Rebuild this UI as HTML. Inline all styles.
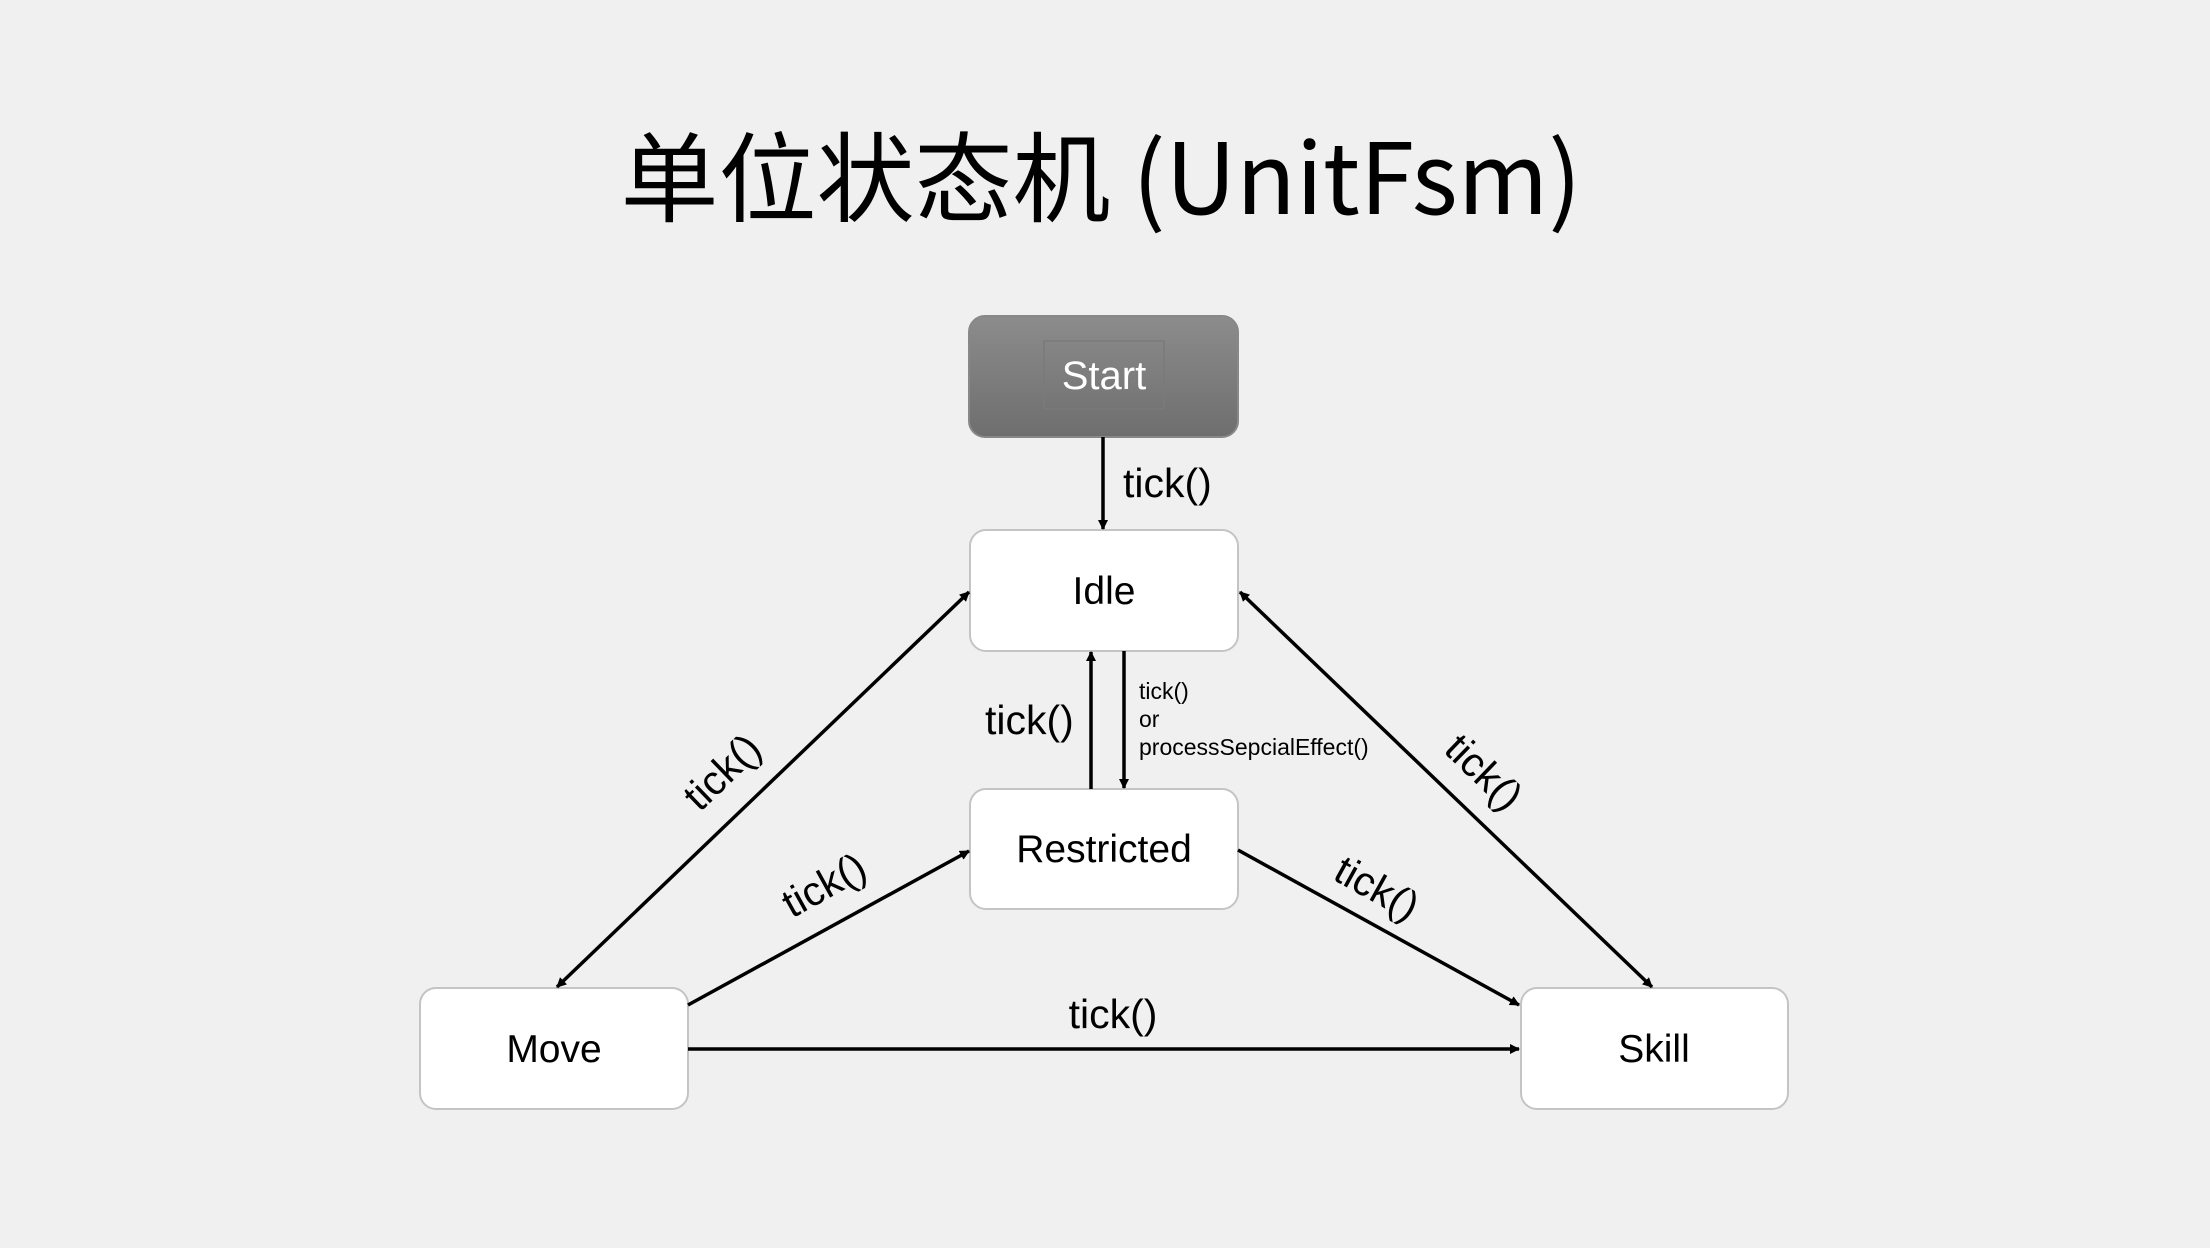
<!DOCTYPE html>
<html><head><meta charset="utf-8"><style>
html,body{margin:0;padding:0;background:#f0f0f0;}
body{width:2210px;height:1248px;position:relative;overflow:hidden;font-family:"Liberation Sans",sans-serif;}
</style></head><body>
<svg width="2210" height="1248" viewBox="0 0 2210 1248" xmlns="http://www.w3.org/2000/svg" style="position:absolute;left:0;top:0">
<defs>
<linearGradient id="g" x1="0" y1="0" x2="0" y2="1"><stop offset="0" stop-color="#8c8c8c"/><stop offset="1" stop-color="#6e6e6e"/></linearGradient>
<marker id="a" markerWidth="10" markerHeight="10" refX="9" refY="5" orient="auto-start-reverse" markerUnits="userSpaceOnUse"><path d="M0,0 L10,5 L0,10 z" fill="#000"/></marker>
</defs>
<text x="1101" y="214" font-family="'Noto Sans CJK SC',sans-serif" font-size="98" text-anchor="middle" fill="#000">单位状态机 (UnitFsm)</text>
<rect x="969" y="316" width="269" height="121" rx="16" fill="url(#g)" stroke="#888" stroke-width="2"/>
<rect x="1044" y="341" width="120" height="68" fill="none" stroke="#7a7a7a" stroke-width="1.5"/>
<text x="1104" y="389" font-size="40" fill="#fff" text-anchor="middle">Start</text>
<g fill="#fff" stroke="#c4c4c4" stroke-width="2">
<rect x="970" y="530" width="268" height="121" rx="16"/>
<rect x="970" y="789" width="268" height="120" rx="16"/>
<rect x="420" y="988" width="268" height="121" rx="16"/>
<rect x="1521" y="988" width="267" height="121" rx="16"/>
</g>
<g font-size="39" text-anchor="middle" fill="#000">
<text x="1104" y="604">Idle</text>
<text x="1104" y="862">Restricted</text>
<text x="554" y="1062">Move</text>
<text x="1654" y="1062">Skill</text>
</g>
<g stroke="#000" stroke-width="3.5" fill="none" marker-end="url(#a)">
<line x1="1103" y1="437" x2="1103" y2="529"/>
<line x1="1091" y1="789" x2="1091" y2="652"/>
<line x1="1124" y1="651" x2="1124" y2="788"/>
<line x1="557" y1="987" x2="969" y2="592" marker-start="url(#a)"/>
<line x1="688" y1="1005" x2="969" y2="851"/>
<line x1="1238" y1="850" x2="1519" y2="1005"/>
<line x1="1240" y1="592" x2="1652" y2="987" marker-start="url(#a)"/>
<line x1="688" y1="1049" x2="1519" y2="1049"/>
</g>
<g font-size="41" fill="#000">
<text x="1123" y="497">tick()</text>
<text x="985" y="734">tick()</text>
<text x="1113" y="1028" text-anchor="middle">tick()</text>
<text transform="translate(722,772) rotate(-44)" text-anchor="middle" y="14">tick()</text>
<text transform="translate(824,885) rotate(-29)" text-anchor="middle" y="14">tick()</text>
<text transform="translate(1377,888) rotate(29)" text-anchor="middle" y="14">tick()</text>
<text transform="translate(1484,772) rotate(44)" text-anchor="middle" y="14">tick()</text>
</g>
<g font-size="23" fill="#000">
<text x="1139" y="699">tick()</text>
<text x="1139" y="727">or</text>
<text x="1139" y="755">processSepcialEffect()</text>
</g>
</svg>
</body></html>
